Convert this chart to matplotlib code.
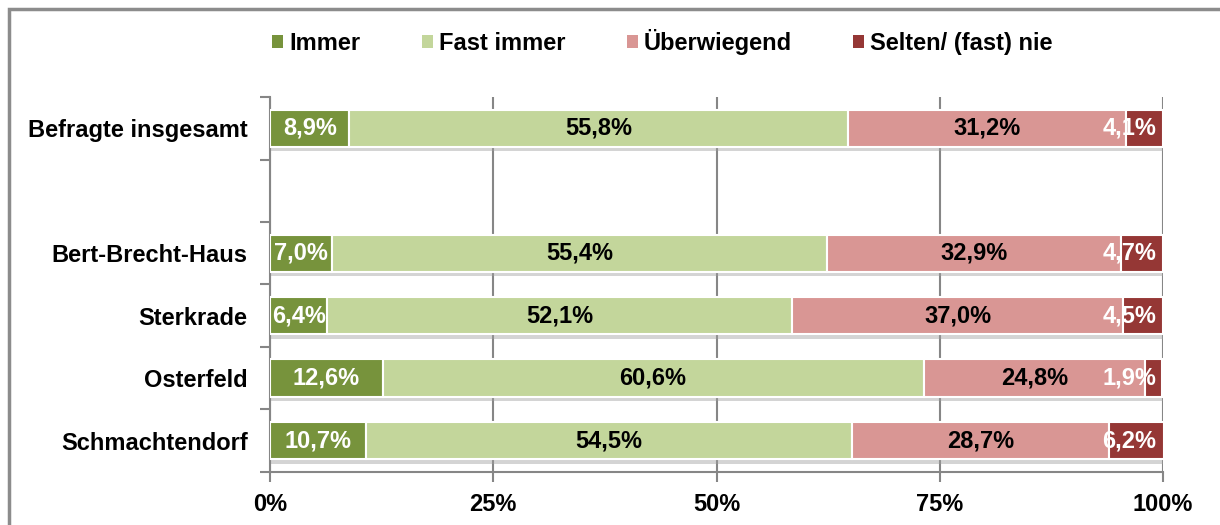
import numpy as np
import matplotlib.pyplot as plt
import matplotlib.patheffects as pe
from matplotlib.patches import Rectangle, Patch

plt.rcParams['font.family'] = ['Liberation Sans', 'DejaVu Sans']
plt.rcParams['font.weight'] = 'bold'

# Daten (Anteile in %), von oben nach unten; '' = Leerzeile
kategorien = ['Befragte insgesamt', '', 'Bert-Brecht-Haus', 'Sterkrade', 'Osterfeld', 'Schmachtendorf']
immer = [8.9, np.nan, 7.0, 6.4, 12.6, 10.7]
fast_immer = [55.8, np.nan, 55.4, 52.1, 60.6, 54.5]
ueberwiegend = [31.2, np.nan, 32.9, 37.0, 24.8, 28.7]
selten = [4.1, np.nan, 4.7, 4.5, 1.9, 6.2]

serien = ['Immer', 'Fast immer', 'Überwiegend', 'Selten/ (fast) nie']
farben = ['#77933C', '#C3D69B', '#D99694', '#953735']
textfarben = ['white', 'black', 'black', 'white']

fig = plt.figure(figsize=(12.2, 5.25), dpi=100)
ax = fig.add_axes([0.2213, 0.101, 0.732, 0.7142])

# Rahmen um die Grafik
fig.patches.append(Rectangle((9 / 1220, -0.1), 1.2, 1 - 9 / 525 + 0.1, transform=fig.transFigure,
                             fill=False, edgecolor='#8c8c8c', linewidth=2.5))

y = np.arange(len(kategorien))
links = np.zeros(len(kategorien))
shadow = [pe.SimplePatchShadow(offset=(1, -3), shadow_rgbFace='#a0a0a0', alpha=0.45), pe.Normal()]
for werte, name, farbe, tf in zip([immer, fast_immer, ueberwiegend, selten], serien, farben, textfarben):
    werte = np.array(werte, dtype=float)
    bars = ax.barh(y, werte, left=links, height=0.6, color=farbe, edgecolor='white',
                   linewidth=1.5, zorder=3)
    for b in bars:
        b.set_path_effects(shadow)
    for yi, l, v in zip(y, links, werte):
        if np.isnan(v):
            continue
        xm = min(l + v / 2, 96.2)
        ax.text(xm, yi, ('%.1f%%' % v).replace('.', ','), ha='center', va='center',
                color=tf, fontsize=17, fontweight='bold', zorder=5)
    links = links + np.nan_to_num(werte)

ax.set_xlim(0, 100)
ax.set_ylim(len(kategorien) - 0.5, -0.5)
ax.set_xticks([0, 25, 50, 75, 100])
ax.set_xticklabels(['0%', '25%', '50%', '75%', '100%'], fontsize=17, fontweight='bold')
ax.set_yticks(y)
ax.set_yticklabels(kategorien, fontsize=17, fontweight='bold')
ax.set_yticks(np.arange(len(kategorien) + 1) - 0.5, minor=True)
ax.tick_params(axis='y', which='major', length=0, pad=16)
ax.tick_params(axis='y', which='minor', length=7, width=1.5, color='#868686')
ax.tick_params(axis='x', length=7, width=1.5, color='#868686', pad=8)
ax.xaxis.grid(True, color='#868686', linewidth=1.5, zorder=0)
ax.set_axisbelow(True)
for s in ['top', 'right']:
    ax.spines[s].set_visible(False)
for s in ['left', 'bottom']:
    ax.spines[s].set_color('#868686')
    ax.spines[s].set_linewidth(1.5)

handles = [Patch(facecolor=f, edgecolor='none') for f in farben]
fig.legend(handles, serien, loc='center', bbox_to_anchor=(0.543, 0.92), ncol=4, frameon=False,
           handlelength=0.47, handleheight=0.47, handletextpad=0.25,
           columnspacing=2.6, prop={'weight': 'bold', 'size': 17})

fig.savefig('out.png', dpi=100)
